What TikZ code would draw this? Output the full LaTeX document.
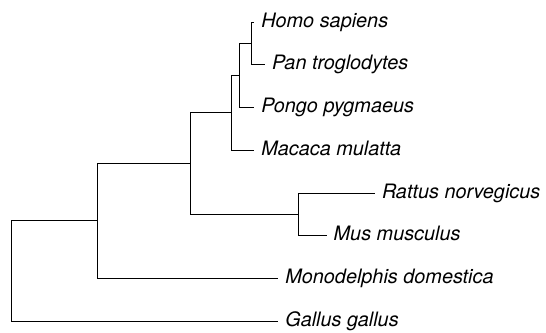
\documentclass[tikz,border=0pt]{standalone}
\usepackage{fontspec}
\setmainfont{TeX Gyre Heros}
\begin{document}
\begin{tikzpicture}[x=0.2mm, y=-0.2mm, line width=0.2mm,
        taxon/.style={anchor=west, inner sep=1.3mm, text height=2.86mm, text depth=0.78mm, font=\fontsize{11.3}{13}\selectfont\itshape}]
        \useasboundingbox (0, 0) rectangle (546, 332);
        % leaves
        \node[taxon] (homo) at (254.3, 22.7) {Homo sapiens};
        \node[taxon] (pan) at (265, 64.3) {Pan troglodytes};
        \node[taxon] (pongo) at (254.3, 107.3) {Pongo pygmaeus};
        \node[taxon] (macaca) at (254.3, 150) {Macaca mulatta};
        \node[taxon] (rattus) at (375, 193.3) {Rattus norvegicus};
        \node[taxon] (mus) at (326.7, 235) {Mus musculus};
        \node[taxon] (opossum) at (278.3, 278.3) {Monodelphis domestica};
        \node[taxon] (gallus) at (278.3, 321.3) {Gallus gallus};
        % inner nodes
        \coordinate (hp) at (251.7, 43.5);
        \coordinate (hpp) at (239, 75.4);
        \coordinate (prim) at (231, 112.7);
        \coordinate (rod) at (298.3, 214.2);
        \coordinate (euar) at (190.7, 163.4);
        \coordinate (mamm) at (97.7, 220.9);
        \coordinate (root) at (11.7, 271.1);
        \draw (hp) |- (homo.west);
        \draw (hp) |- (pan.west);
        \draw (hpp) |- (hp);
        \draw (hpp) |- (pongo.west);
        \draw (prim) |- (hpp);
        \draw (prim) |- (macaca.west);
        \draw (rod) |- (rattus.west);
        \draw (rod) |- (mus.west);
        \draw (euar) |- (prim);
        \draw (euar) |- (rod);
        \draw (mamm) |- (euar);
        \draw (mamm) |- (opossum.west);
        \draw (root) |- (mamm);
        \draw (root) |- (gallus.west);
    \end{tikzpicture}
\end{document}
